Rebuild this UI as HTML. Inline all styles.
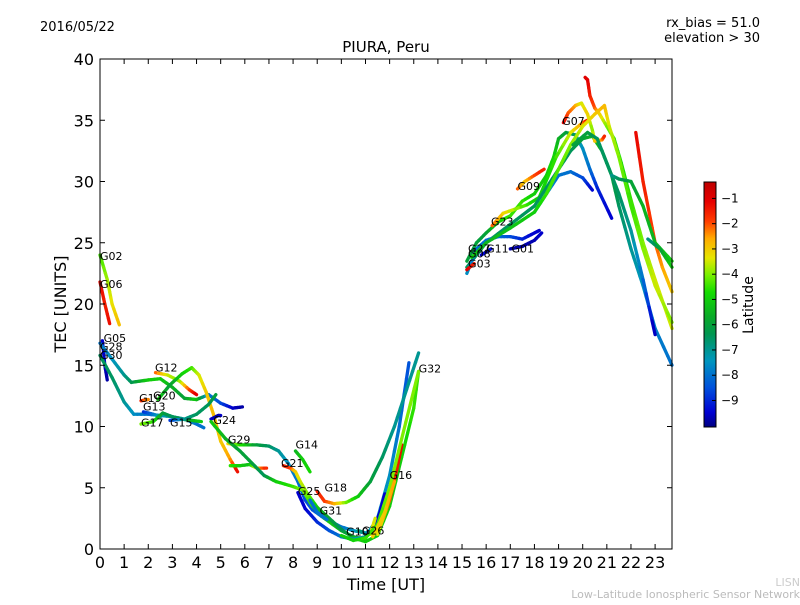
<!DOCTYPE html>
<html><head><meta charset="utf-8"><style>
html,body{margin:0;padding:0;background:#fff;}
svg text{font-family:"DejaVu Sans","Liberation Sans",sans-serif;}
</style></head><body>
<svg id="chart" width="800" height="600" viewBox="0 0 800 600" xmlns="http://www.w3.org/2000/svg">
<rect x="0" y="0" width="800" height="600" fill="#fff"/>
<text x="40" y="31" font-size="13">2016/05/22</text>
<text x="386" y="52" font-size="15" text-anchor="middle">PIURA, Peru</text>
<text x="760" y="27" font-size="13" text-anchor="end">rx_bias = 51.0</text>
<text x="760" y="42" font-size="13" text-anchor="end">elevation &gt; 30</text>
<g id="tracks"></g>
<g id="labels"></g>
<rect x="100" y="59" width="572" height="490" fill="none" stroke="#000" stroke-width="1"/>
<g id="axes"></g>
<text x="386" y="590" font-size="16" text-anchor="middle">Time [UT]</text>
<text x="66" y="304" font-size="16" text-anchor="middle" transform="rotate(-90 66 304)">TEC [UNITS]</text>
<defs><linearGradient id="cmap" x1="0" y1="1" x2="0" y2="0"></linearGradient></defs>
<rect x="704" y="182" width="12" height="245" fill="url(#cmap)" stroke="#000" stroke-width="1"/>
<g id="cbticks"></g>
<text x="753" y="305" font-size="14" text-anchor="middle" transform="rotate(-90 753 305)">Latitude</text>
<text x="800" y="586" font-size="11" fill="#ccc" text-anchor="end">LISN</text>
<text x="800" y="598" font-size="11" fill="#bbb" text-anchor="end">Low-Latitude Ionospheric Sensor Network</text>
</svg>
<script>
// Tracks: each point [time UT, TEC, latitude]
const trackNames = ["G02","G06","G05","G28","G30","G12","G20","G19","G13","G17","G15","G24","G29a","G29b","G29c","G14","G21","G25","G31","G18","G16","G10","G26","GL","GO",
"T1","G09","G23","G32b","G07","G07r","T8","G01","G11","G03","TT","TD","TY","TR","TG","TG2"];
const trackPoints = [
[[0,24,-4.5],[0.3,22,-3.8],[0.5,20,-3.3],[0.8,18.3,-2.8]],
[[0,21.8,-1.2],[0.2,20,-1.5],[0.4,18.4,-1.3]],
[[0.1,17,-9.5],[0.2,15,-9.6],[0.3,13.8,-9.8]],
[[0,16.8,-8],[0.5,15.5,-7.5],[1,14.2,-7],[1.3,13.6,-6.5],[2,13.8,-5],[2.5,13.9,-5],[3,13.2,-5.5],[3.5,12.3,-6],[4,12.2,-5],[4.5,12.6,-7.8],[5,11.9,-8.5],[5.5,11.5,-9.5],[5.9,11.6,-9.8]],
[[0,15.8,-6.5],[0.5,14,-6.5],[1,12,-7],[1.4,11,-7.5],[2,11,-8],[2.5,10.9,-7.5],[3,10.8,-7],[3.5,10.6,-7],[4,10.2,-8],[4.3,9.9,-8]],
[[2.3,14.4,-2],[2.8,14.2,-3.5],[3.3,13.7,-4],[3.7,13,-2],[4,12.6,-1]],
[[2.4,12.2,-5],[2.9,13.4,-6],[3.4,14.3,-5],[3.8,14.8,-4.5],[4.1,14.2,-3.5],[4.4,12.8,-3],[4.7,11,-2.8],[5,8.8,-3],[5.4,7.3,-2.5],[5.7,6.3,-1.2]],
[[1.7,12.1,-1.5],[2.0,12.2,-2.5]],
[[1.8,11.2,-9],[2.2,11,-8],[2.5,10.8,-7]],
[[1.7,10.2,-4],[2.2,10.4,-4.5],[2.6,11.1,-6],[3,10.8,-6.5],[3.4,10.6,-6.3],[3.8,10.5,-5.5],[4.2,10.4,-5]],
[[2.9,10.5,-9],[3.5,10.6,-7],[4,11,-6.5],[4.5,11.8,-6.5],[4.8,12.6,-6]],
[[4.6,10.6,-9.5],[4.9,10.9,-9.8],[5.0,10.9,-9.5]],
[[5.3,8.6,-3],[5.8,8.5,-4.5],[6.5,8.5,-6],[7,8.4,-6.5],[7.4,8,-7],[7.8,7,-7.5],[8.2,5.5,-8],[8.5,4,-8.5],[8.8,3.2,-8.5],[9.3,2.5,-8],[10,1.8,-8],[10.5,1.5,-7.5],[11,1.3,-7]],
[[5.4,6.8,-4.5],[5.8,6.8,-5],[6.2,6.9,-5.3],[6.5,6.6,-3],[6.9,6.6,-1.5]],
[[4.6,10.4,-5],[5.2,9,-5.5],[5.8,8,-6],[6.3,7,-6],[6.8,6,-6.5],[7.3,5.5,-5],[8,5.1,-4.5],[8.4,4.8,-4],[8.8,3.5,-4.5],[9.3,2.5,-5],[10,1.5,-5.5],[10.5,1,-6],[11,0.8,-5]],
[[8.1,8,-5.5],[8.4,7.3,-5],[8.7,6.3,-4.8]],
[[7.6,6.8,-1.5],[7.9,6.6,-1.8],[8.1,6.3,-3],[8.3,5.5,-3.5],[8.6,4.5,-4],[9,3.4,-5],[9.5,2.5,-6],[10,1.6,-6.5],[10.5,0.9,-5.5],[11,0.6,-5],[11.5,1.1,-5],[12,3.5,-5],[12.5,7.5,-5],[13,11.5,-4.5],[13.2,14.5,-4.5]],
[[8.2,4.6,-9.5],[8.5,3.3,-9.5],[9,2.2,-9],[9.5,1.5,-8.5],[10,1,-8],[10.5,0.8,-7.5],[11,1,-7],[11.5,2.5,-7.5],[12,6,-7.5],[12.4,10,-8],[12.8,15.2,-8.5]],
[[8.7,4,-8],[9,3,-8],[9.4,2.4,-8]],
[[9.0,4.7,-1.5],[9.3,3.9,-1.8],[9.7,3.7,-2.5],[10.2,3.8,-4],[10.7,4.3,-5],[11.2,5.5,-6],[11.7,7.5,-6.5],[12.2,10,-7],[12.7,13,-7],[13.2,16,-7]],
[[11.5,1.2,-3.5],[12,4,-2],[12.3,6.5,-1.5],[12.5,8.5,-1.2]],
[[10.7,1.5,-6.5],[11,1.3,-7],[11.3,1.5,-9],[11.6,3,-9.5],[11.8,4.5,-9.5]],
[[11.2,1.2,-3],[11.4,2.5,-3.5]],
[[10,1.1,-5],[10.5,0.7,-5],[11,0.9,-4.5],[11.5,2,-4.5],[12,5,-4],[12.5,9,-4],[13.2,14.5,-4]],
[[11.3,1,-3],[11.8,3,-3],[12.2,5.5,-2.5]],
[[15.2,23.5,-6],[15.6,25,-6],[16,25.8,-6],[16.5,26.7,-5],[17,27.2,-4.5],[17.5,28.4,-4.5],[18,29,-5],[18.5,30.5,-5],[18.8,32,-4.8],[19,33.5,-5.5],[19.3,34,-6],[19.7,33.8,-6.5],[20,32.7,-7.5],[20.3,31,-8],[20.6,29.5,-9],[21.2,27,-9.5]],
[[17.3,29.4,-2],[17.6,30,-3],[18,30.5,-2],[18.4,31,-1.5]],
[[16.25,26.4,-2],[16.7,27.4,-3],[17.7,28.1,-4.5],[18.2,28.7,-5],[18.9,32,-4.5],[19.5,34,-3.5],[20,34.8,-2.5],[20.2,35,-1.2]],
[[15.2,23,-6.5],[16,25,-6.5],[17,26.5,-6.5],[18,28,-6.5],[18.5,29.5,-6.5],[19,31,-6.5],[19.5,32.5,-6.5],[20,33.5,-6],[20.4,33.7,-5.5],[20.8,32.5,-5.5],[21.2,30.5,-6],[21.5,28,-6.5],[22,24.5,-7],[22.5,21.5,-7.5],[23,18,-7.8],[23.7,15,-8]],
[[19.2,34.8,-1],[19.4,35.6,-2],[19.7,36.2,-2.5],[19.95,36.4,-3.5],[20.2,35.5,-3],[20.4,34.2,-4],[20.5,33.3,-3],[20.8,33.4,-2.5],[20.9,33.7,-1.5]],
[[20.1,38.5,-1],[20.2,38.3,-1],[20.3,37,-1.5],[20.5,36,-2],[20.7,35.5,-3],[21,34.5,-4],[21.3,33.5,-4.5],[21.6,31.5,-4.8],[22,28.5,-4.5],[22.5,25,-4],[23,22,-3.5],[23.7,18,-3.5]],
[[15.2,22.5,-7.5],[15.6,24.5,-8],[16,25.2,-8],[16.5,25.5,-8],[17,25.5,-8.5],[17.5,25.3,-9],[18,25.8,-9.5],[18.2,26,-9.5]],
[[17,24.5,-9.8],[17.5,24.7,-9.8],[18,25.2,-9.7],[18.3,25.8,-9.5]],
[[15.8,24,-9.5],[16.2,24.5,-9.3]],
[[15.2,22.8,-1],[15.5,23.3,-1.5]],
[[18,27.5,-7.5],[18.5,29,-7.5],[19,30.5,-8],[19.5,30.8,-8],[20,30.3,-8.5],[20.4,29.3,-9.5]],
[[15.4,23.8,-5],[16,25,-5.5],[17,26.2,-5.2],[18,27.5,-5],[18.5,29,-4.5],[19,31,-4.3],[19.5,33,-4],[20,34.5,-3.5],[20.5,35.5,-3],[20.9,36.2,-2.7],[21.1,34.5,-3.5],[21.5,32,-4],[22,28,-4.5],[22.5,24.5,-4],[23,21.5,-3.5],[23.7,18.5,-4]],
[[19.6,33,-6],[20.2,34,-6],[20.6,33.5,-6.5],[21,31.5,-6.5],[21.5,29,-6.5],[22,26,-7],[22.5,22,-8],[23,17.5,-9.8]],
[[22.2,34,-1.2],[22.5,30,-1.5],[23,25,-2],[23.3,23,-2.5],[23.7,21,-3]],
[[21.2,30.5,-7],[21.5,30.2,-6.5],[22,30,-6],[22.5,28,-5.5],[23,25,-5.5],[23.7,23.5,-5]],
[[22.7,25.3,-7],[23.2,24.5,-6],[23.7,23,-5]]
];
const labelNames = ["G02","G06","G05","G28","G30","G12","G19","G20","G13","G17","G15","G24","G29","G14","G21","G25","G18","G31","G10","G26","G16","G32","G27","G08","G03","G11","G01","G23","G09","G07"];
const labelTimes = [0,0,0.15,0,0,2.28,1.62,2.2,1.78,1.7,2.9,4.7,5.3,8.1,7.5,8.2,9.3,9.1,10.2,10.85,12.0,13.2,15.25,15.25,15.25,16.0,17.05,16.2,17.3,19.15];
const labelTecs = [23.6,21.3,16.9,16.2,15.5,14.5,12.0,12.2,11.3,10.0,10.0,10.2,8.6,8.2,6.7,4.4,4.7,2.8,1.1,1.2,5.7,14.4,24.2,23.8,23.0,24.2,24.2,26.4,29.3,34.6];
const xTicks = [0,1,2,3,4,5,6,7,8,9,10,11,12,13,14,15,16,17,18,19,20,21,22,23];
const yTicks = [0,5,10,15,20,25,30,35,40];
const cbTicks = [-1,-2,-3,-4,-5,-6,-7,-8,-9];

const NS="http://www.w3.org/2000/svg";
const X0=100, X1=672, Y0=549, Y1=59, TMAX=23.7, VMAX=40;
function xs(t){return X0+(t/TMAX)*(X1-X0);}
function ys(v){return Y0-(v/VMAX)*(Y0-Y1);}
const LMIN=-10.05, LMAX=-0.35;
function cbY(l){return 427-(l-LMIN)/(LMAX-LMIN)*245;}
const stops=[[0,[0,0,128]],[0.06,[0,0,210]],[0.16,[0,80,220]],[0.27,[0,150,190]],[0.38,[0,150,80]],[0.45,[10,170,40]],[0.55,[20,220,0]],[0.62,[120,240,0]],[0.69,[230,230,0]],[0.77,[255,170,0]],[0.84,[255,60,0]],[0.92,[230,0,0]],[1,[190,0,0]]];
function cmap(l){
 let f=Math.max(0,Math.min(1,(l-LMIN)/(LMAX-LMIN)));
 for(let i=1;i<stops.length;i++){ if(f<=stops[i][0]){const a=stops[i-1],b=stops[i];const u=(f-a[0])/(b[0]-a[0]);
  const c=a[1].map((x,k)=>Math.round(x+(b[1][k]-x)*u));return `rgb(${c[0]},${c[1]},${c[2]})`;}}
 return "rgb(190,0,0)";
}
const grad=document.getElementById("cmap");
stops.forEach(s=>{const st=document.createElementNS(NS,"stop");st.setAttribute("offset",s[0]);st.setAttribute("stop-color",`rgb(${s[1].join(",")})`);grad.appendChild(st);});

const tg=document.getElementById("tracks");
trackPoints.forEach((pts,ti)=>{
 const g=document.createElementNS(NS,"g");
 
 
 for(let i=0;i<pts.length-1;i++){
  const a=pts[i],b=pts[i+1];const n=4;
  for(let k=0;k<n;k++){
   const u0=k/n,u1=(k+1)/n;
   const ln=document.createElementNS(NS,"line");
   
   
   ln.setAttribute("x1",xs(a[0]+(b[0]-a[0])*u0));ln.setAttribute("y1",ys(a[1]+(b[1]-a[1])*u0));
   ln.setAttribute("x2",xs(a[0]+(b[0]-a[0])*u1));ln.setAttribute("y2",ys(a[1]+(b[1]-a[1])*u1));
   ln.setAttribute("stroke",cmap(a[2]+(b[2]-a[2])*(u0+u1)/2));
   ln.setAttribute("stroke-width","3.3");ln.setAttribute("stroke-linecap","round");
   g.appendChild(ln);
  }
 }
 tg.appendChild(g);
});
const lg=document.getElementById("labels");
labelNames.forEach((nm,i)=>{
 const t=document.createElementNS(NS,"text");
 
 
 t.setAttribute("x",xs(labelTimes[i]));t.setAttribute("y",ys(labelTecs[i]));
 t.setAttribute("font-size","11");t.textContent=nm;lg.appendChild(t);
});
const ag=document.getElementById("axes");
xTicks.forEach(v=>{
 const x=xs(v);
 [[Y0,Y0-5],[Y1,Y1+5]].forEach(p=>{const l=document.createElementNS(NS,"line");
  
  
  l.setAttribute("x1",x);l.setAttribute("x2",x);l.setAttribute("y1",p[0]);l.setAttribute("y2",p[1]);l.setAttribute("stroke","#000");ag.appendChild(l);});
 const t=document.createElementNS(NS,"text");
 
 
 t.setAttribute("x",x);t.setAttribute("y",568);t.setAttribute("font-size","16");t.setAttribute("text-anchor","middle");t.textContent=v;ag.appendChild(t);
});
yTicks.forEach(v=>{
 const y=ys(v);
 [[X0,X0+5],[X1,X1-5]].forEach(p=>{const l=document.createElementNS(NS,"line");
  
  
  l.setAttribute("x1",p[0]);l.setAttribute("x2",p[1]);l.setAttribute("y1",y);l.setAttribute("y2",y);l.setAttribute("stroke","#000");ag.appendChild(l);});
 const t=document.createElementNS(NS,"text");
 
 
 t.setAttribute("x",94);t.setAttribute("y",y+6);t.setAttribute("font-size","16");t.setAttribute("text-anchor","end");t.textContent=v;ag.appendChild(t);
});
const cg=document.getElementById("cbticks");
cbTicks.forEach(v=>{
 const y=cbY(v);
 const l=document.createElementNS(NS,"line");
 
 
 l.setAttribute("x1",712);l.setAttribute("x2",716);l.setAttribute("y1",y);l.setAttribute("y2",y);l.setAttribute("stroke","#000");cg.appendChild(l);
 const t=document.createElementNS(NS,"text");
 
 
 t.setAttribute("x",721);t.setAttribute("y",y+4);t.setAttribute("font-size","12");t.textContent="\u2212"+Math.abs(v);cg.appendChild(t);
});
</script>
</body></html>
